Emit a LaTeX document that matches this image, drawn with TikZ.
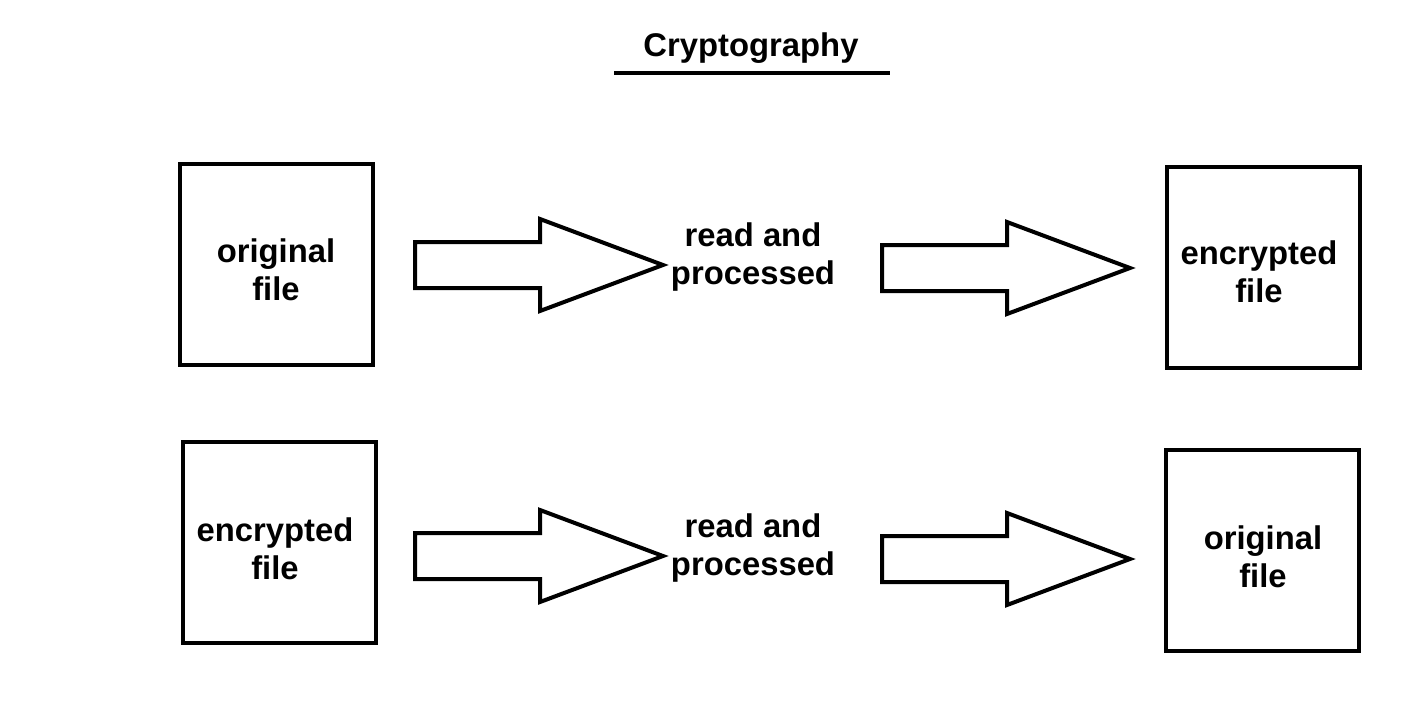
\documentclass[tikz,border=0pt]{standalone}
\usepackage{fontspec}
\setmainfont{Liberation Sans}
\begin{document}
\begin{tikzpicture}[x=0.5pt,y=-0.5pt,
  box/.style={draw,line width=2pt,minimum width=96.5pt,minimum height=100.5pt,inner sep=0pt},
  lbl/.style={font=\fontsize{16.4}{19}\selectfont\bfseries,align=center,inner sep=0pt},
  blockarrow/.pic={\draw[line width=2pt,line join=miter] (0,-23)--(125,-23)--(125,-46)--(248,0)--(125,46)--(125,23)--(0,23)--cycle;}]
\useasboundingbox[fill=white] (0,0) rectangle (1408,719);
\node[lbl] (title) at (751,48) {Cryptography};
\coordinate (ul1) at (614,73);
\coordinate (ul2) at (890,73);
\draw[line width=2pt] (ul1) -- (ul2);
% boxes
\node[box] (b1) at (276.5,264.5) {};
\node[box] (b2) at (1263.5,267) {};
\node[box] (b3) at (279.5,542) {};
\node[box] (b4) at (1262.5,550.5) {};
\node[lbl] (t1) at (276,270) {original\\file};
\node[lbl] (t2) at (1259,272) {encrypted\\file};
\node[lbl] (t3) at (275,549) {encrypted\\file};
\node[lbl] (t4) at (1263,557) {original\\file};
\node[lbl] (p1) at (753,257) {read and\\processed};
\node[lbl] (p2) at (753,548) {read and\\processed};
% block arrows
\pic at (415,265) {blockarrow};
\pic at (882,268) {blockarrow};
\pic at (415,556) {blockarrow};
\pic at (882,559) {blockarrow};
\end{tikzpicture}
\end{document}
